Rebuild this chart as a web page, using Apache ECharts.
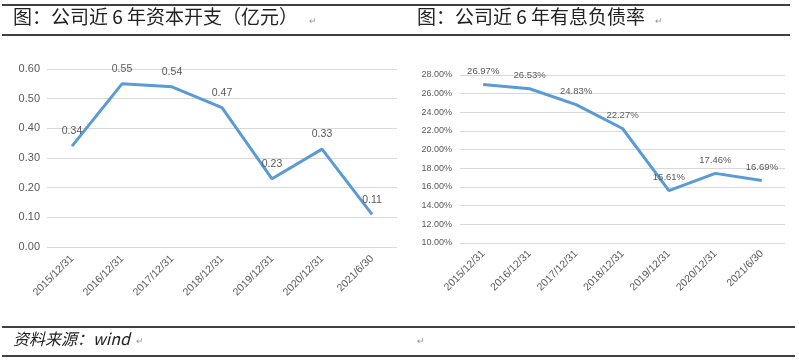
<!DOCTYPE html>
<html><head><meta charset="utf-8">
<script src="https://cdn.jsdelivr.net/npm/echarts@6/dist/echarts.min.js"></script>
<style>html,body{margin:0;padding:0;background:#fff}#c{width:799px;height:360px}</style>
</head><body><div id="c"></div>
<script>
var categories = ['2015/12/31','2016/12/31','2017/12/31','2018/12/31','2019/12/31','2020/12/31','2021/6/30'];
var capex = [0.34, 0.55, 0.54, 0.47, 0.23, 0.33, 0.11];
var debtRatio = [26.97, 26.53, 24.83, 22.27, 15.61, 17.46, 16.69];
var titleLeft = '图：公司近 6 年资本开支（亿元）';
var titleRight = '图：公司近 6 年有息负债率';
var sourceText = '资料来源：wind';

var grey = '#595959', gridC = '#D9D9D9', lineC = '#5B9BD5';
var chart = echarts.init(document.getElementById('c'), null, {renderer:'canvas'});
function hline(y, x1, x2){ return {type:'line', shape:{x1:x1,y1:y,x2:x2,y2:y}, style:{stroke:'#000', lineWidth:1.3}}; }
var cjk = '"Noto Sans CJK SC", sans-serif';
chart.setOption({
  animation:false,
  textStyle:{fontFamily:'"Liberation Sans", Arial, sans-serif'},
  graphic:[
    hline(5, 2, 790), hline(35, 2, 790), hline(327, 2, 795), hline(356, 2, 795),
    {type:'text', left:13, top:7, style:{text:titleLeft, font:'19px '+cjk, fill:'#222'}},
    {type:'text', left:417, top:7, style:{text:titleRight, font:'19px '+cjk, fill:'#222'}},
    {type:'text', left:13, top:331, style:{text:sourceText, font:'italic 16px '+cjk, fill:'#222'}},
    {type:'text', left:309, top:16, style:{text:'↵', font:'9px '+cjk, fill:'#999'}},
    {type:'text', left:655, top:16, style:{text:'↵', font:'9px '+cjk, fill:'#999'}},
    {type:'text', left:136, top:336, style:{text:'↵', font:'9px '+cjk, fill:'#999'}},
    {type:'text', left:417, top:336, style:{text:'↵', font:'9px '+cjk, fill:'#999'}}
  ],
  grid:[
    {left:47, top:69, width:350, height:178},
    {left:460, top:75, width:325, height:168}
  ],
  xAxis:[
    {type:'category', gridIndex:0, data:categories, boundaryGap:true,
     axisLine:{show:false}, axisTick:{show:false},
     axisLabel:{rotate:45, color:grey, fontSize:10.5, margin:10, interval:0}},
    {type:'category', gridIndex:1, data:categories, boundaryGap:true,
     axisLine:{show:false}, axisTick:{show:false},
     axisLabel:{rotate:45, color:grey, fontSize:10.5, margin:9, interval:0}}
  ],
  yAxis:[
    {type:'value', gridIndex:0, min:0, max:0.6, interval:0.1,
     axisLine:{show:false}, axisTick:{show:false},
     splitLine:{lineStyle:{color:gridC, width:1}},
     axisLabel:{color:grey, fontSize:11, margin:7, formatter:function(v){return v.toFixed(2);}}},
    {type:'value', gridIndex:1, min:10, max:28, interval:2,
     axisLine:{show:false}, axisTick:{show:false},
     splitLine:{lineStyle:{color:gridC, width:1}},
     axisLabel:{color:grey, fontSize:9, margin:8, formatter:function(v){return v.toFixed(2)+'%';}}}
  ],
  series:[
    {type:'line', xAxisIndex:0, yAxisIndex:0, data:capex, symbol:'circle', symbolSize:0.5, showSymbol:true,
     lineStyle:{color:lineC, width:3}, itemStyle:{color:lineC},
     label:{show:true, position:'top', distance:9, color:grey, fontSize:10.5,
       formatter:function(p){return p.value.toFixed(2);}}},
    {type:'line', xAxisIndex:1, yAxisIndex:1, data:debtRatio, symbol:'circle', symbolSize:0.5, showSymbol:true,
     lineStyle:{color:lineC, width:3}, itemStyle:{color:lineC},
     label:{show:true, position:'top', distance:8, color:grey, fontSize:9.5,
       formatter:function(p){return p.value.toFixed(2)+'%';}}}
  ]
});
</script></body></html>
